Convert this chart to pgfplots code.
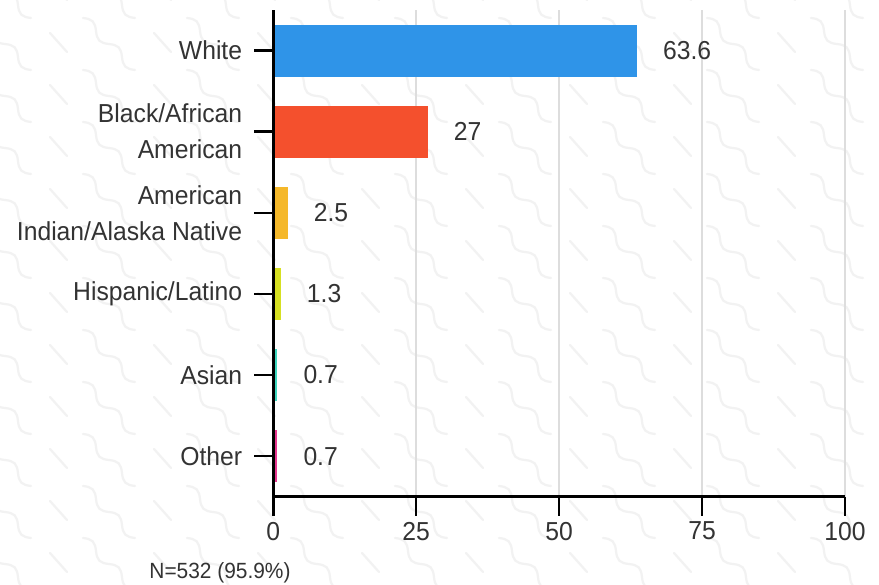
\documentclass[border=0pt]{standalone}
\usepackage{fontspec}
\setmainfont{Liberation Sans}[FakeStretch=0.95]
\usepackage{pgfplots}
\pgfplotsset{compat=1.18}
\definecolor{txt}{HTML}{333333}
\definecolor{gridc}{HTML}{DDDDDD}
\definecolor{bgl}{HTML}{F2F2F2}
\definecolor{cWhite}{HTML}{2F94E8}
\definecolor{cBlack}{HTML}{F4502D}
\definecolor{cAmInd}{HTML}{F5B82A}
\definecolor{cHisp}{HTML}{D6E022}
\definecolor{cAsian}{HTML}{3DD6BE}
\definecolor{cOther}{HTML}{E6378F}
\begin{document}
\begin{tikzpicture}[x=1pt,y=1pt]
\useasboundingbox (0,0) rectangle (879,585);
\fill[white] (0,0) rectangle (879,585);
\begin{scope}
\clip (0,0) rectangle (879,585);
\foreach \i in {-1,...,9}{
 \foreach \j in {-2,...,12}{
   \pgfmathsetmacro\px{-21+104*\i}
   \pgfmathsetmacro\py{585-(18+52*\j)}
   \begin{scope}[shift={(\px,\py)}, rotate=-45]
     \draw[bgl, line width=2.2pt, line cap=round] (0,0) sin (9.2,4.5) cos (18.4,0) sin (27.6,-4.5) cos (36.8,0) sin (46,4.5) cos (55.1,0) sin (64.3,-4.5) cos (73.5,0);
   \end{scope}
   \draw[bgl, line width=2.2pt, line cap=round] (\px-33,\py-15) -- (\px-16,\py-34);
 }}
\end{scope}
\begin{axis}[
  at={(273.3pt,88.3pt)}, anchor=south west,
  scale only axis, width=571.7pt, height=486.7pt,
  xmin=0, xmax=100, ymin=-0.5, ymax=5.5,
  enlargelimits=false, clip=false,
  axis lines*=left,
  axis line style={black, line width=2.5pt, -},
  xtick={0,25,50,75,100},
  ytick={0,1,2,3,4,5},
  yticklabels={Other, Asian, Hispanic/Latino, {American\\Indian/Alaska Native}, {Black/African\\American}, White},
  tick align=outside,
  major tick length=19pt,
  tick style={black, line width=2.5pt},
  xmajorgrids,
  grid style={color=gridc, line width=2pt},
  ticklabel style={font=\fontsize{26}{36}\selectfont, text=txt},
  yticklabel style={align=right, inner sep=0pt, xshift=-12pt},
  xticklabel style={inner sep=0pt, yshift=-6pt},
  /pgf/number format/assume math mode=true,
  xbar, bar width=52pt, bar shift=0pt,
  nodes near coords,
  nodes near coords style={anchor=west, inner sep=0pt, xshift=26pt, font=\fontsize{26}{36}\selectfont, text=txt},
]
\addplot[draw=none, fill=cWhite] coordinates {(63.6,5)};
\addplot[draw=none, fill=cBlack] coordinates {(27,4)};
\addplot[draw=none, fill=cAmInd] coordinates {(2.5,3)};
\addplot[draw=none, fill=cHisp] coordinates {(1.3,2)};
\addplot[draw=none, fill=cAsian] coordinates {(0.7,1)};
\addplot[draw=none, fill=cOther] coordinates {(0.7,0)};
\draw[black, line width=2.5pt] (axis cs:0,-0.5) -- (axis cs:0,5.5);
\end{axis}
\node[font=\fontsize{22}{26}\selectfont, text=txt] at (220,12) {N=532 (95.9\%)};
\end{tikzpicture}
\end{document}
